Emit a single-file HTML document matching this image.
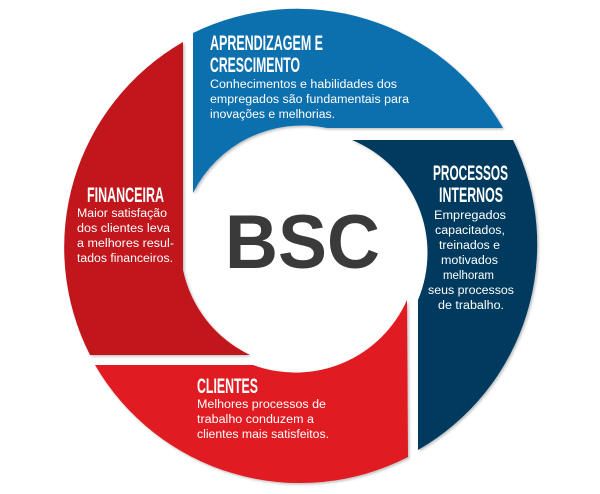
<!DOCTYPE html>
<html><head><meta charset="utf-8"><style>
html,body{margin:0;padding:0;background:#fff;width:600px;height:494px;overflow:hidden}
svg{display:block}
.t{font-family:"Liberation Sans Narrow","Liberation Sans",sans-serif;font-weight:bold;fill:#fff;font-size:21px}
.b{font-family:"Liberation Sans",sans-serif;fill:#fff;font-size:11.5px}
</style></head><body>
<svg width="600" height="494" viewBox="0 0 600 494" xmlns="http://www.w3.org/2000/svg">
<defs><filter id="s" x="-10%" y="-10%" width="120%" height="120%"><feDropShadow dx="1.5" dy="1.5" stdDeviation="1.2" flood-color="#000" flood-opacity="0.25"/></filter></defs>
<g filter="url(#s)">
<path d="M193,33 A237,237 0 0,1 503,128 L327,128 A122,122 0 0,0 193,193 Z" fill="#0a6fae"/>
<path d="M352,140 L513,140 A237,237 0 0,1 418,450 L418,300 A122,122 0 0,0 352,140 Z" fill="#053a5e"/>
<path d="M95,365 L253,365 A122,122 0 0,0 407,300 L408,457 A237,237 0 0,1 95,365 Z" fill="#e01b24"/>
<path d="M183,42 L183,270 A122,122 0 0,0 250,355 L90,355 A237,237 0 0,1 183,42 Z" fill="#c0171f"/>
</g>
<text x="225" y="268" textLength="155" lengthAdjust="spacingAndGlyphs" font-family="Liberation Sans,sans-serif" font-weight="bold" font-size="76" fill="#3a3a3a">BSC</text>

<text class="t" x="210" y="50" textLength="113" lengthAdjust="spacingAndGlyphs">APRENDIZAGEM E</text>
<text class="t" x="210" y="72" textLength="90" lengthAdjust="spacingAndGlyphs">CRESCIMENTO</text>
<text class="b" x="210" y="88" textLength="187" lengthAdjust="spacingAndGlyphs">Conhecimentos e habilidades dos</text>
<text class="b" x="210" y="103" textLength="199" lengthAdjust="spacingAndGlyphs">empregados são fundamentais para</text>
<text class="b" x="210" y="118" textLength="125" lengthAdjust="spacingAndGlyphs">inovações e melhorias.</text>

<text class="t" x="87" y="202" textLength="77" lengthAdjust="spacingAndGlyphs">FINANCEIRA</text>
<text class="b" x="77" y="217" textLength="90" lengthAdjust="spacingAndGlyphs">Maior satisfação</text>
<text class="b" x="77" y="232" textLength="93" lengthAdjust="spacingAndGlyphs">dos clientes leva</text>
<text class="b" x="77" y="247" textLength="97" lengthAdjust="spacingAndGlyphs">a melhores resul-</text>
<text class="b" x="77" y="262" textLength="96" lengthAdjust="spacingAndGlyphs">tados financeiros.</text>

<text class="t" x="197" y="393" textLength="61" lengthAdjust="spacingAndGlyphs">CLIENTES</text>
<text class="b" x="197" y="408" textLength="129" lengthAdjust="spacingAndGlyphs">Melhores processos de</text>
<text class="b" x="197" y="423" textLength="117" lengthAdjust="spacingAndGlyphs">trabalho conduzem a</text>
<text class="b" x="197" y="438" textLength="132" lengthAdjust="spacingAndGlyphs">clientes mais satisfeitos.</text>

<text class="t" x="433" y="180" textLength="75" lengthAdjust="spacingAndGlyphs">PROCESSOS</text>
<text class="t" x="439" y="202" textLength="64" lengthAdjust="spacingAndGlyphs">INTERNOS</text>
<text class="b" x="434" y="219" textLength="72" lengthAdjust="spacingAndGlyphs">Empregados</text>
<text class="b" x="435" y="234" textLength="70" lengthAdjust="spacingAndGlyphs">capacitados,</text>
<text class="b" x="439" y="249" textLength="61" lengthAdjust="spacingAndGlyphs">treinados e</text>
<text class="b" x="441" y="264" textLength="57" lengthAdjust="spacingAndGlyphs">motivados</text>
<text class="b" x="443" y="279" textLength="51" lengthAdjust="spacingAndGlyphs">melhoram</text>
<text class="b" x="428" y="294" textLength="86" lengthAdjust="spacingAndGlyphs">seus processos</text>
<text class="b" x="438" y="309" textLength="66" lengthAdjust="spacingAndGlyphs">de trabalho.</text>
</svg>
</body></html>
